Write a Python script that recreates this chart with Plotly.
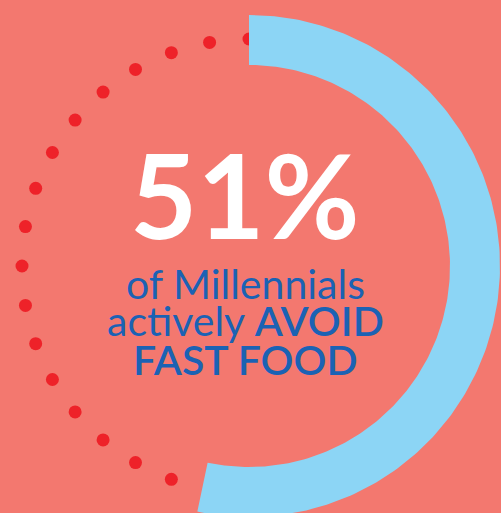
import numpy as np
import plotly.graph_objects as go

# ---- data ----
headline_value = 51            # label value shown in the centre
arc_share = 53.3               # share of the ring the blue arc covers in the picture (%)
dot_angles = list(range(190, 361, 10))   # dotted remainder, degrees clockwise from 12 o'clock
label_lines = ["of Millennials",
               "actively <span style='font-weight:600'>AVOID</span>",
               "<span style='font-weight:600'>FAST FOOD</span>"]

# ---- styling ----
W, H = 501, 513
BG = "#F3786F"
ARC = "#8CD5F5"
DOT = "#EE2229"
BLUE = "#1B62B4"
cx, cy = 249, 266
r_out, r_in, r_dot = 251, 201, 227

def polar_xy(r, deg):
    t = np.radians(deg)
    return cx + r * np.sin(t), cy - r * np.cos(t)

fig = go.Figure()

# dotted remainder
dx, dy = polar_xy(r_dot, np.array(dot_angles, dtype=float))
fig.add_trace(go.Scatter(x=dx, y=dy, mode="markers",
                         marker=dict(size=13, color=DOT, line=dict(width=0)),
                         hoverinfo="skip", showlegend=False))

# blue arc
end = 360 * arc_share / 100
th = np.linspace(0, end, 200)
xo, yo = polar_xy(r_out, th)
xi, yi = polar_xy(r_in, th[::-1])
fig.add_trace(go.Scatter(x=np.concatenate([xo, xi, xo[:1]]),
                         y=np.concatenate([yo, yi, yo[:1]]),
                         mode="lines", fill="toself", fillcolor=ARC,
                         line=dict(width=0, color=ARC),
                         hoverinfo="skip", showlegend=False))

tx = 245
fig.add_annotation(x=tx, y=194, xref="x", yref="y", showarrow=False,
                   text=f"<b>{headline_value}%</b>", xanchor="center", yanchor="middle",
                   font=dict(family="Lato", size=116, color="white"))
for txt, yy in zip(label_lines, [283, 320, 359]):
    fig.add_annotation(x=tx, y=yy, xref="x", yref="y", showarrow=False,
                       text=txt, xanchor="center", yanchor="middle",
                       font=dict(family="Lato", size=41, color=BLUE))

fig.update_layout(width=W, height=H, margin=dict(l=0, r=0, t=0, b=0),
                  paper_bgcolor=BG, plot_bgcolor=BG,
                  xaxis=dict(range=[0, W], visible=False, fixedrange=True),
                  yaxis=dict(range=[H, 0], visible=False, fixedrange=True),
                  showlegend=False)
fig.write_html("out.html", config={"displayModeBar": False})
